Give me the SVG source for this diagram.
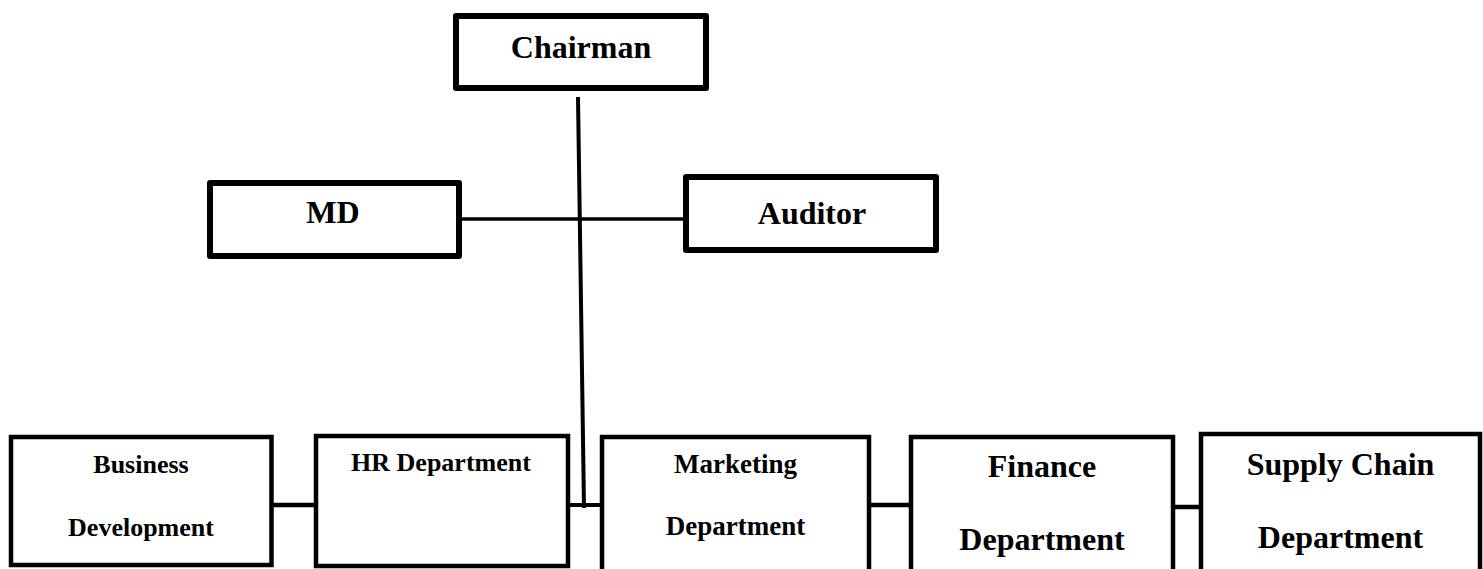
<svg xmlns="http://www.w3.org/2000/svg" width="1483" height="569" viewBox="0 0 1483 569">
  <style>
    .box { fill: #ffffff; stroke: #000000; stroke-linejoin: round; }
    .top { stroke-width: 6; }
    .dept { stroke-width: 4.5; stroke-linejoin: miter; }
    .link { stroke: #000000; fill: none; }
    text { font-family: "Liberation Serif", "Times New Roman", serif; font-weight: bold; fill: #000000; text-anchor: middle; }
    .big { font-size: 32px; }
    .small { font-size: 26px; }
  </style>
  <rect width="1483" height="569" fill="#ffffff"/>

  <!-- connectors -->
  <g id="connectors">
    <line class="link" x1="462" y1="219" x2="683" y2="219" stroke-width="3.5"/>
    <line class="link" x1="578" y1="97" x2="584" y2="508" stroke-width="4"/>
    <line class="link" x1="273" y1="505" x2="314" y2="505" stroke-width="4.5"/>
    <line class="link" x1="565" y1="505" x2="600" y2="505" stroke-width="4"/>
    <line class="link" x1="871" y1="505" x2="909" y2="505" stroke-width="4.5"/>
    <line class="link" x1="1175" y1="507" x2="1199" y2="507" stroke-width="4.5"/>
  </g>

  <g id="chairman">
    <rect class="box top" x="456" y="16" width="250" height="72"/>
    <text class="big" x="581" y="58">Chairman</text>
  </g>

  <g id="md">
    <rect class="box top" x="210" y="183" width="249" height="73"/>
    <text class="big" x="333" y="223">MD</text>
  </g>

  <g id="auditor">
    <rect class="box top" x="686" y="177" width="250" height="73"/>
    <text class="big" x="812" y="224">Auditor</text>
  </g>

  <g id="business-development">
    <rect class="box dept" x="11" y="437" width="260.5" height="128"/>
    <text class="small" x="141" y="473">Business</text>
    <text class="small" x="141" y="536">Development</text>
  </g>

  <g id="hr-department">
    <rect class="box dept" x="316" y="436" width="252" height="130"/>
    <text class="small" x="441" y="471">HR Department</text>
  </g>

  <g id="marketing-department">
    <rect class="box dept" x="602" y="437" width="267" height="145"/>
    <text x="735.5" y="473" font-size="27">Marketing</text>
    <text x="735.5" y="535" font-size="27">Department</text>
  </g>

  <g id="finance-department">
    <rect class="box dept" x="911" y="437" width="262" height="145"/>
    <text class="big" x="1042" y="477">Finance</text>
    <text class="big" x="1042" y="550">Department</text>
  </g>

  <g id="supply-chain-department">
    <rect class="box dept" x="1201" y="434" width="279" height="148"/>
    <text class="big" x="1340.5" y="475">Supply Chain</text>
    <text class="big" x="1340.5" y="548">Department</text>
  </g>
</svg>
